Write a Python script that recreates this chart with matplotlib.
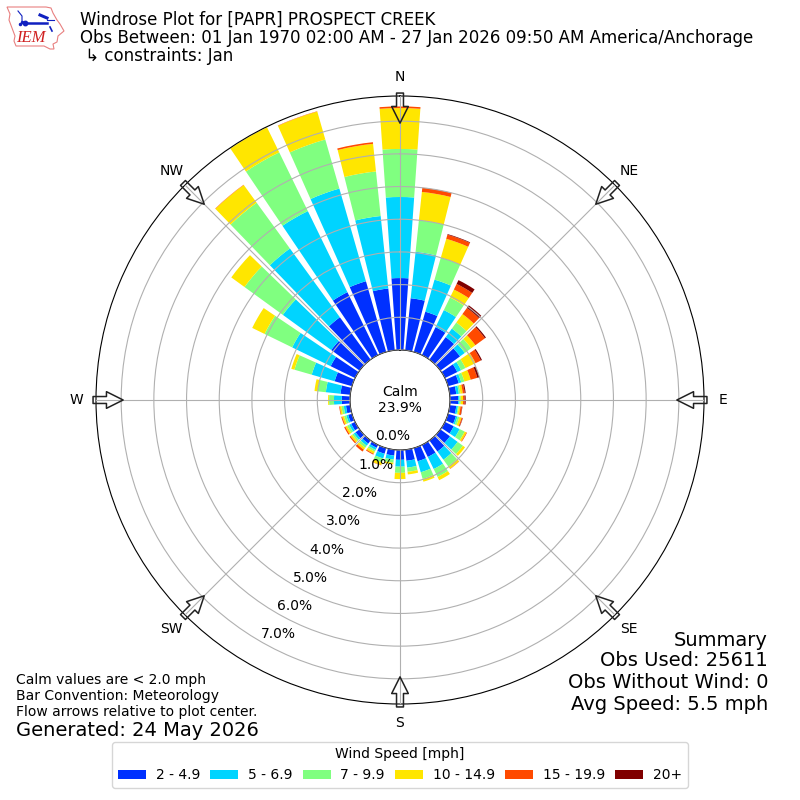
import numpy as np
import matplotlib
matplotlib.use('Agg')
import matplotlib.pyplot as plt
from matplotlib.patches import Polygon

# wind direction bins, degrees from north
directions = list(range(0, 360, 10))

# cumulative frequency [%] up to the top of each speed class, one value per direction
upto_4_9 = [2.2, 1.6, 1.28, .95, .85, .74, .42, .34, .2, .25, .2, .25, .3, .36, .42, .41, .42, .34,
            .3, .18, .18, .1, .12, .15, .13, .12, .13, .25, .3, .55, .83, 1.07, 1.6, 2.14, 2.25, 1.9]
upto_6_9 = [4.68, 3.03, 2.3, 1.53, 1.17, .92, .55, .42, .28, .29, .25, .3, .5, .65, .73, .82, .77, .55,
            .51, .3, .33, .17, .2, .22, .2, .18, .2, .49, .75, 1.28, 2.14, 2.9, 4.2, 4.9, 5.2, 4.13]
upto_9_9 = [6.15, 4.0, 3.0, 1.96, 1.4, 1.16, .7, .52, .33, .33, .28, .36, .67, .85, .98, 1.09, .98, .68,
            .7, .4, .45, .23, .28, .28, .27, .25, .27, .64, 1.0, 1.83, 3.08, 4.35, 5.93, 6.9, 6.76, 5.5]
upto_14_9 = [7.4, 4.87, 3.6, 2.23, 1.72, 1.32, 1.04, .72, .4, .4, .33, .43, .73, .93, 1.07, 1.2, 1.07, .76,
             .89, .45, .54, .3, .35, .34, .33, .31, .32, .67, 1.1, 1.93, 3.5, 4.85, 6.6, 7.75, 7.65, 6.35]
upto_19_9 = [7.45, 5.0, 3.73, 2.42, 1.95, 1.68, 1.22, .93, .46, .45, .38, .46, .75, .93, 1.08, 1.2, 1.07, .76,
             .89, .45, .55, .33, .42, .38, .37, .34, .34, .67, 1.1, 1.93, 3.5, 4.85, 6.61, 7.75, 7.66, 6.4]
upto_max = [7.45, 5.0, 3.75, 2.55, 2.05, 1.72, 1.26, 1.0, .49, .48, .39, .47, .75, .93, 1.08, 1.2, 1.07, .76,
            .89, .45, .55, .33, .42, .38, .37, .34, .34, .67, 1.1, 1.93, 3.5, 4.85, 6.61, 7.75, 7.66, 6.4]

speed_labels = ['2 - 4.9', '5 - 6.9', '7 - 9.9', '10 - 14.9', '15 - 19.9', '20+']
speed_colors = ['#0030ff', '#00d4ff', '#80ff80', '#ffe600', '#ff4a00', '#800000']
compass = ['N', 'NE', 'E', 'SE', 'S', 'SW', 'W', 'NW']
rings = [0, 1, 2, 3, 4, 5, 6, 7]

fig = plt.figure(figsize=(8, 8), dpi=100)
ax = fig.add_axes([0.12, 0.12, 0.76, 0.76], projection='polar')
ax.set_theta_zero_location('N')
ax.set_theta_direction(-1)

theta = np.radians(directions)
bottom = np.zeros(len(directions))
handles = []
for top, color in zip([upto_4_9, upto_6_9, upto_9_9, upto_14_9, upto_19_9, upto_max], speed_colors):
    top = np.array(top)
    handles.append(ax.bar(theta, top - bottom, width=np.radians(8), bottom=bottom, color=color,
                          linewidth=0, zorder=1))
    bottom = top

ax.set_rorigin(-1.53)
ax.set_ylim(0, 7.77)
ax.set_yticks(rings)
ax.set_yticklabels(['%.1f%%' % r for r in rings], fontsize=10)
ax.set_rlabel_position(210)
ax.set_xticks(np.radians(np.arange(0, 360, 45)))
ax.set_xticklabels(compass, fontsize=10)
ax.tick_params(axis='x', pad=3.5)
ax.set_axisbelow(False)
ax.grid(True, color='#b0b0b0', lw=0.8)

# flow arrows around the edge, pointing at the plot center
for a in np.arange(0, 360, 45):
    ax.annotate('', xy=(np.radians(a), 6.94), xytext=(np.radians(a), 7.86), annotation_clip=False,
                arrowprops=dict(facecolor='none', edgecolor='#222222', width=5, headwidth=12,
                                headlength=12, shrink=0, lw=1.1), zorder=5)

ax.text(0.5, 0.5, 'Calm\n23.9%', transform=ax.transAxes, ha='center', va='center', fontsize=10)

fig.text(80 / 800, 1 - 38 / 800,
         'Windrose Plot for [PAPR] PROSPECT CREEK\n'
         'Obs Between: 01 Jan 1970 02:00 AM - 27 Jan 2026 09:50 AM America/Anchorage\n'
         ' \u21b3 constraints: Jan', fontsize=12, va='center', linespacing=1.0)

fig.text(16 / 800, 1 - 680 / 800, 'Calm values are < 2.0 mph', fontsize=10, va='center')
fig.text(16 / 800, 1 - 696 / 800, 'Bar Convention: Meteorology', fontsize=10, va='center')
fig.text(16 / 800, 1 - 712 / 800, 'Flow arrows relative to plot center.', fontsize=10, va='center')
fig.text(16 / 800, 1 - 730 / 800, 'Generated: 24 May 2026', fontsize=14, va='center')

fig.text(768 / 800, 1 - 640 / 800, 'Summary', fontsize=14, ha='right', va='center')
fig.text(768 / 800, 1 - 661 / 800, 'Obs Used: 25611', fontsize=14, ha='right', va='center')
fig.text(768 / 800, 1 - 682 / 800, 'Obs Without Wind: 0', fontsize=14, ha='right', va='center')
fig.text(768 / 800, 1 - 705 / 800, 'Avg Speed: 5.5 mph', fontsize=14, ha='right', va='center')

fig.legend(handles, speed_labels, loc='lower center', bbox_to_anchor=(0.5, 0.0065), ncol=6,
           title='Wind Speed [mph]', fontsize=10, columnspacing=0.75, handletextpad=0.7)

# IEM logo, traced by hand in pixel coordinates
logo = fig.add_axes([0, 1 - 60 / 800, 70 / 800, 60 / 800])
logo.set_xlim(0, 70)
logo.set_ylim(60, 0)
logo.axis('off')
outline = [(7, 7), (46, 7), (51, 8), (53, 13), (57, 20), (60, 24), (64, 31), (58, 36), (57, 42), (53, 44),
           (54, 49), (50, 49), (44, 46), (16, 46), (14, 41), (15, 36), (12, 28), (9, 20), (10, 14), (7, 7)]
logo.add_patch(Polygon(outline, closed=True, fill=False, edgecolor='#e88080', lw=0.8))
logo.plot([25, 47], [23, 23], color='#1020c0', lw=1.8)
logo.plot([47, 54], [20, 20], color='#1020c0', lw=0.8)
logo.plot([18, 22, 22], [11, 16, 21], color='#1020c0', lw=0.8)
logo.plot([40, 47], [15, 18], color='#1020c0', lw=2.2)
logo.plot([50, 52], [27, 31], color='#1020c0', lw=1.2)
logo.plot([25], [23], marker='o', ms=3.2, color='#1020c0')
logo.plot([20, 22], [24, 22], marker='o', ms=1.5, lw=0, color='#1020c0')
logo.text(16, 38, 'IEM', color='#d02020', fontsize=12, style='italic', family='Liberation Serif', va='center')

fig.savefig('out.png', dpi=100)
